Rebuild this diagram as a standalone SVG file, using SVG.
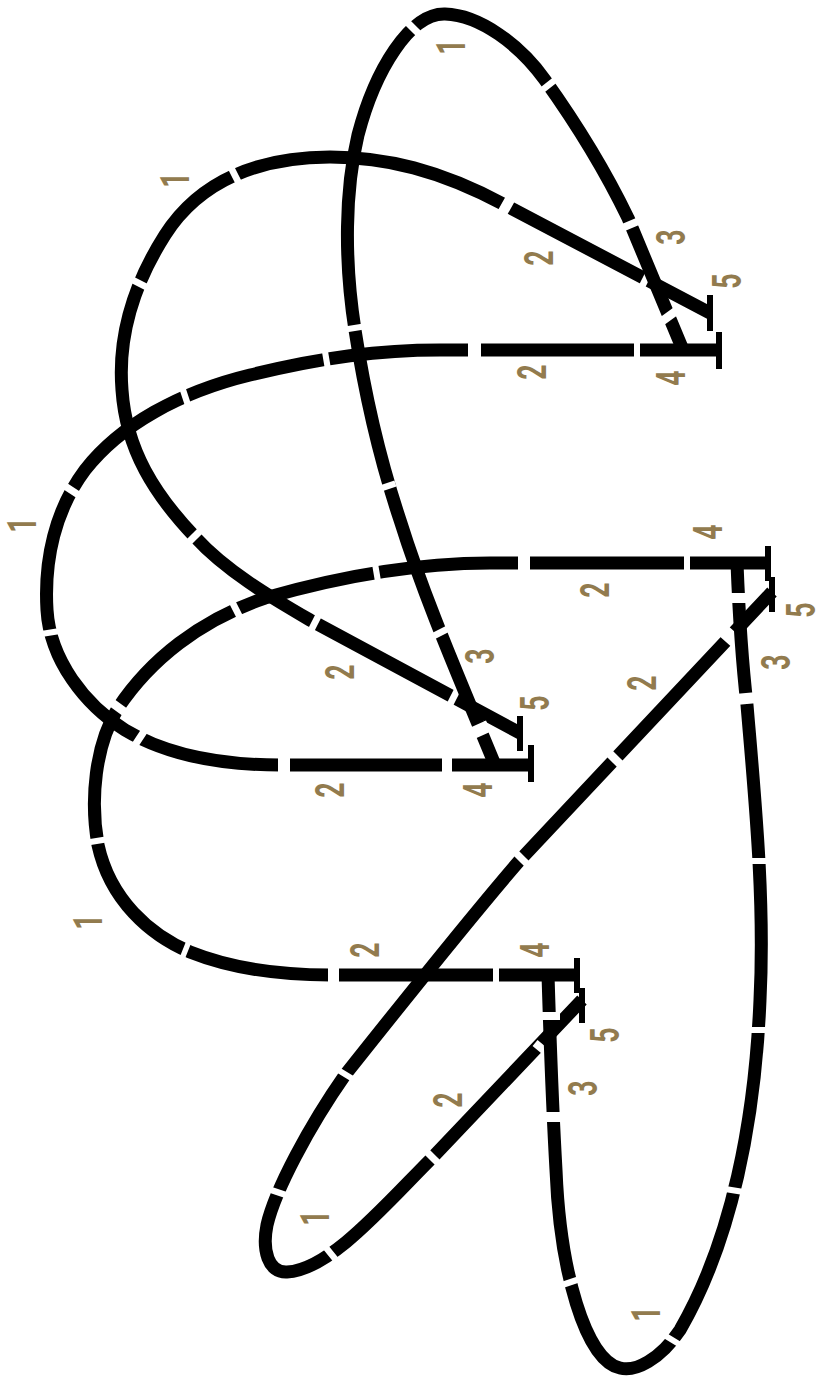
<svg xmlns="http://www.w3.org/2000/svg" width="819" height="1376" viewBox="0 0 819 1376">
<style>
.c{fill:none;stroke:#000;stroke-width:13}
.b{fill:none;stroke:#000;stroke-width:6}
.g{fill:none;stroke:#fff;stroke-width:22}
.t{font-family:"Roboto",sans-serif;font-size:41px;font-weight:700;fill:#927b4e;text-anchor:middle}
</style>
<rect width="819" height="1376" fill="#fff"/>
<g id="connectors">
<path class="c" d="M718 350H450C380 349 320 358 250 375C180 392 120 425 85 470C55 510 44 560 47 610C50 660 85 705 125 730C170 757 225 765 280 765H530"/>
<path class="g" d="M468 350H481M634 350H640M323 358L329 357M182 397L188 395M69 493L73 487M47 630L48 636M136 737L142 741M278 765H290M442 765H452"/>
<path class="c" d="M710 313L505 205C440 170 385 157 330 157C260 157 200 180 165 235C130 290 118 340 122 390C126 450 155 495 195 537C225 570 270 597 310 620L520 733"/>
<path class="g" d="M502 203L511 208M642 279L648 282M238 174L232 177M142 281L139 287M451 695L457 698M192 534L197 539M312 621L318 624"/>
<path class="c" d="M683 350L628 218C600 160 570 115 545 80C520 45 480 15 445 14C410 13 375 70 358 135C345 190 344 260 355 330C365 395 380 460 400 520C425 600 460 680 495 765"/>
<path class="g" d="M632 228L629 221M546 83L550 88M416 26L411 31M354 325L355 331M384 484L386 490M438 630L441 636M476 725L481 736M666 313L671 320"/>
<path class="c" d="M768 563H490C420 563 345 575 265 598C200 620 150 660 118 708C95 745 90 800 98 845C110 900 150 935 190 952C235 970 285 975 330 975H577"/>
<path class="g" d="M518 563H530M684 563H690M373 570L379 569M232 609L238 606M116 711L121 704M96 838L97 844M183 949L188 951M328 975H339M493 975H499"/>
<path class="c" d="M772 592L520 860C475 912 395 1012 345 1075C310 1125 275 1190 267 1225C262 1250 268 1273 287 1272C330 1270 385 1205 432 1158L582 1000"/>
<path class="g" d="M735 632L726 642M618 756L612 762M524 856L519 861M347 1072L344 1077M281 1190L279 1196M332 1250L327 1254M435 1155L430 1160M546 1047L541 1053"/>
<path class="c" d="M737 563C740 640 743 670 747 705C755 800 765 900 760 1000C755 1120 732 1240 680 1330C660 1360 635 1372 620 1368C585 1360 560 1270 556 1170C552 1100 550 1040 548 975"/>
<path class="g" d="M738 593V603M746 693L747 704M757 858V864M758 1027V1033M738 1188L737 1194M673 1337L670 1342M570 1279L572 1285M556 1122V1112M549 1020V1012"/>
<g id="bars">
<path class="b" d="M719 332V369M710 295V331M531 745V782M520 716V751M768 546V581M772 577V612M577 958V993M582 988V1023"/>
</g>
</g>
<g id="labels">
<text class="t" transform="translate(546,372) rotate(-90) scale(.65,1)">2</text>
<text class="t" transform="translate(685,378) rotate(-90) scale(.65,1)">4</text>
<text class="t" transform="translate(685,237) rotate(-90) scale(.65,1)">3</text>
<text class="t" transform="translate(741,281) rotate(-90) scale(.65,1)">5</text>
<text class="t" transform="translate(553,258) rotate(-90) scale(.65,1)">2</text>
<text class="t" transform="translate(465,47) rotate(-90) scale(.65,1)">1</text>
<text class="t" transform="translate(189,180) rotate(-90) scale(.65,1)">1</text>
<text class="t" transform="translate(36,525) rotate(-90) scale(.65,1)">1</text>
<text class="t" transform="translate(354,672) rotate(-90) scale(.65,1)">2</text>
<text class="t" transform="translate(494,656) rotate(-90) scale(.65,1)">3</text>
<text class="t" transform="translate(549,703) rotate(-90) scale(.65,1)">5</text>
<text class="t" transform="translate(344,790) rotate(-90) scale(.65,1)">2</text>
<text class="t" transform="translate(492,790) rotate(-90) scale(.65,1)">4</text>
<text class="t" transform="translate(722,532) rotate(-90) scale(.65,1)">4</text>
<text class="t" transform="translate(609,590) rotate(-90) scale(.65,1)">2</text>
<text class="t" transform="translate(815,610) rotate(-90) scale(.65,1)">5</text>
<text class="t" transform="translate(790,662) rotate(-90) scale(.65,1)">3</text>
<text class="t" transform="translate(656,683) rotate(-90) scale(.65,1)">2</text>
<text class="t" transform="translate(102,922) rotate(-90) scale(.65,1)">1</text>
<text class="t" transform="translate(379,950) rotate(-90) scale(.65,1)">2</text>
<text class="t" transform="translate(549,950) rotate(-90) scale(.65,1)">4</text>
<text class="t" transform="translate(619,1035) rotate(-90) scale(.65,1)">5</text>
<text class="t" transform="translate(597,1088) rotate(-90) scale(.65,1)">3</text>
<text class="t" transform="translate(462,1100) rotate(-90) scale(.65,1)">2</text>
<text class="t" transform="translate(329,1218) rotate(-90) scale(.65,1)">1</text>
<text class="t" transform="translate(660,1314) rotate(-90) scale(.65,1)">1</text>
</g>
</svg>
